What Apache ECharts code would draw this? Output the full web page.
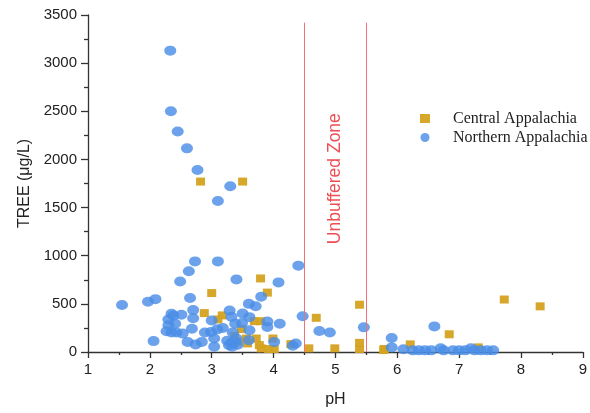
<!DOCTYPE html>
<html>
<head>
<meta charset="utf-8">
<script src="https://cdn.jsdelivr.net/npm/echarts@6/dist/echarts.min.js"></script>
<style>html,body{margin:0;padding:0;background:#fff}#c{width:590px;height:413px}</style>
</head>
<body>
<div id="c"></div>
<script>
// ---- data ----
var xTicks = [1, 2, 3, 4, 5, 6, 7, 8, 9];
var yTicks = [0, 500, 1000, 1500, 2000, 2500, 3000, 3500];

var centralPH = [2.82, 3.50, 3.79, 3.00, 3.90, 2.88, 3.17, 3.10, 3.69, 3.79, 3.48, 3.99, 3.37, 3.56, 3.72,
  3.42, 3.58, 3.77, 3.80, 3.92, 4.01, 4.28, 4.57, 4.69, 4.99, 5.39, 5.39, 5.39, 5.78, 5.79, 6.21, 6.84, 7.31, 7.73, 8.31];
var centralTREE = [1770, 1770, 764, 612, 617, 404, 380, 338, 320, 320, 238, 140, 167, 140, 140,
  105, 89, 72, 38, 31, 31, 82, 38, 355, 38, 491, 95, 31, 20, 31, 79, 184, 48, 545, 474];

var northernPH = [2.33, 2.34, 2.45, 2.60, 2.77, 3.30, 3.10,
  2.73, 3.10, 4.40, 2.63, 3.40, 2.49, 4.08, 3.80,
  1.55, 1.97, 2.09, 2.65, 3.60, 3.71, 2.70, 3.29,
  2.35, 2.38, 2.51, 2.70, 3.32, 3.50, 3.61, 2.30,
  2.30, 2.41, 3.00, 3.38, 3.49, 3.90, 4.10, 4.47,
  3.90, 2.27, 2.35, 2.43, 2.53, 2.68, 2.89, 2.99, 3.09,
  3.18, 3.34, 3.61, 2.06, 2.61, 2.74, 2.84, 3.04,
  3.04, 3.25, 3.32, 3.37, 3.33, 3.40, 3.60, 4.01,
  4.31, 4.36, 4.74, 4.91, 5.46, 5.91, 5.91, 6.60,
  6.10, 6.70, 7.19, 3.28, 3.42,
  6.25, 6.35, 6.45, 6.55, 6.75, 6.90, 7.00, 7.10, 7.25, 7.35, 7.45, 7.55];
var northernTREE = [3130, 2500, 2290, 2115, 1890, 1722, 1568,
  941, 941, 897, 839, 754, 733, 723, 573,
  488, 522, 549, 560, 500, 476, 435, 430,
  396, 378, 386, 351, 365, 400, 362, 338,
  278, 294, 327, 294, 300, 317, 294, 371,
  259, 215, 202, 202, 191, 242, 202, 208, 235,
  249, 202, 225, 113, 105, 79, 105, 140,
  54, 116, 99, 105, 54, 140, 123, 105,
  64, 89, 218, 202, 256, 146, 48, 266,
  28, 38, 38, 70, 75,
  17, 17, 17, 17, 17, 17, 17, 17, 17, 17, 17, 17];

var zoneEdges = [4.5, 5.5];
var zoneTop = 3420;
var zoneLabel = { x: 5.0, y: 1800, text: 'Unbuffered Zone' };

function pairs(xs, ys) { return xs.map(function (x, i) { return [x, ys[i]]; }); }

var chart = echarts.init(document.getElementById('c'), null, { renderer: 'canvas' });
var axisFont = { fontFamily: 'Liberation Sans, Arial, sans-serif', fontSize: 15, color: '#222' };
var lineStyle = { color: '#333', width: 1.3 };

chart.setOption({
  backgroundColor: '#fff',
  animation: false,
  grid: { left: 88, right: 2, top: 15, bottom: 56, containLabel: false },
  legend: {
    orient: 'vertical', left: 415, top: 104,
    itemWidth: 10, itemHeight: 9, itemGap: 0,
    data: [{ name: 'Central Appalachia', icon: 'rect' }, { name: 'Northern Appalachia', icon: 'circle' }],
    textStyle: { fontFamily: 'Liberation Serif, Times New Roman, serif', fontSize: 16, color: '#222',
      padding: [0, 0, 0, 18], lineHeight: 19 }
  },
  xAxis: {
    type: 'value', min: xTicks[0], max: xTicks[xTicks.length - 1], interval: 1,
    name: 'pH', nameLocation: 'middle', nameGap: 40,
    nameTextStyle: { fontFamily: 'Liberation Sans, Arial, sans-serif', fontSize: 16, color: '#222' },
    axisLine: { show: true, lineStyle: lineStyle },
    axisTick: { show: true, inside: false, length: 6, lineStyle: lineStyle },
    minorTick: { show: true, splitNumber: 2, length: 3, lineStyle: lineStyle },
    axisLabel: Object.assign({ margin: 10, formatter: function (v) { return String(v); } }, axisFont),
    splitLine: { show: false }
  },
  yAxis: {
    type: 'value', min: yTicks[0], max: yTicks[yTicks.length - 1], interval: 500,
    name: 'TREE (μg/L)', nameLocation: 'middle', nameGap: 55,
    nameTextStyle: { fontFamily: 'Liberation Sans, Arial, sans-serif', fontSize: 16, color: '#222' },
    axisLine: { show: true, lineStyle: lineStyle },
    axisTick: { show: true, inside: false, length: 7, lineStyle: lineStyle },
    minorTick: { show: true, splitNumber: 2, length: 4, lineStyle: lineStyle },
    axisLabel: Object.assign({ margin: 11, formatter: function (v) { return String(v); } }, axisFont),
    splitLine: { show: false }
  },
  series: [
    {
      name: 'Central Appalachia', type: 'scatter', symbol: 'rect', symbolSize: [9, 8],
      itemStyle: { color: '#D4A21F', opacity: 0.95 },
      data: pairs(centralPH, centralTREE), z: 2
    },
    {
      name: 'Northern Appalachia', type: 'scatter', symbol: 'circle', symbolSize: [12, 10],
      itemStyle: { color: '#4A8EE6', opacity: 0.82 },
      data: pairs(northernPH, northernTREE), z: 3,
      markLine: {
        silent: true, symbol: ['none', 'none'],
        lineStyle: { color: '#F0707A', width: 1, type: 'solid' },
        label: { show: false },
        data: zoneEdges.map(function (x) { return [{ coord: [x, 0] }, { coord: [x, zoneTop] }]; })
      }
    },
    {
      name: 'zone', type: 'scatter', symbolSize: 0, silent: true, z: 4,
      data: [[zoneLabel.x, zoneLabel.y]],
      label: {
        show: true, position: 'inside', rotate: 90, formatter: zoneLabel.text,
        fontFamily: 'Liberation Sans, Arial, sans-serif', fontSize: 17.5, color: '#E8202A'
      }
    }
  ]
});
</script>
</body>
</html>
